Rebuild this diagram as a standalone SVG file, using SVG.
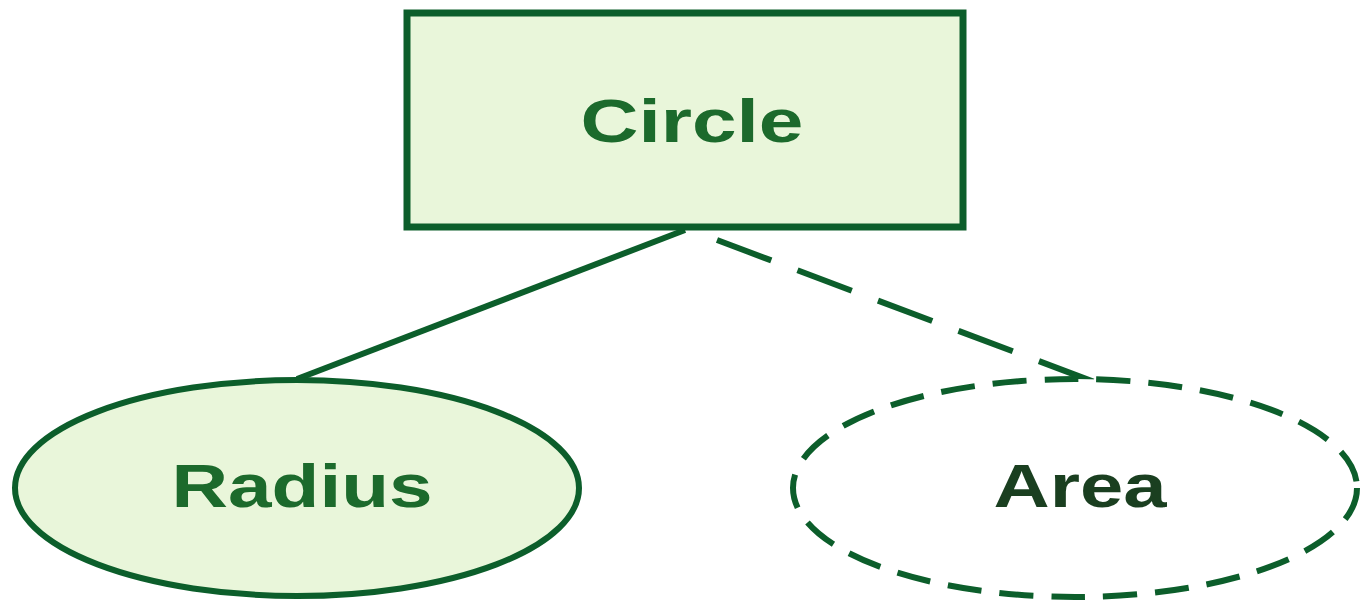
<svg xmlns="http://www.w3.org/2000/svg" width="1366" height="603" viewBox="0 0 1366 603">
  <style>
    .shape { stroke: #0c5e2b; stroke-width: 6; }
    .rectshape { stroke-width: 7; }
    .filled { fill: #e9f6da; }
    .lbl { font-family: "Liberation Sans", Arial, sans-serif; font-weight: bold; font-size: 62px; text-anchor: middle; }
    .green { fill: #1c6a2c; }
    .dark { fill: #1a3f20; }
    .conn { stroke: #0c5e2b; stroke-width: 6; fill: none; }
  </style>
  <rect width="1366" height="603" fill="#ffffff"/>
  <g id="connectors">
    <line class="conn" x1="685" y1="230" x2="297" y2="379"/>
    <line class="conn" x1="717" y1="240" x2="1097" y2="383" stroke-dasharray="58 28"/>
  </g>
  <g id="circle">
    <rect class="shape rectshape filled" x="407" y="13" width="556" height="214"/>
    <text class="lbl green" x="692" y="142" textLength="223" lengthAdjust="spacingAndGlyphs">Circle</text>
  </g>
  <g id="radius">
    <ellipse class="shape filled" cx="297" cy="488" rx="282" ry="108"/>
    <text class="lbl green" x="302" y="507" textLength="261" lengthAdjust="spacingAndGlyphs">Radius</text>
  </g>
  <g id="area">
    <ellipse class="shape" fill="#ffffff" cx="1075" cy="488" rx="282" ry="109" stroke-dasharray="34 18"/>
    <text class="lbl dark" x="1080" y="507" textLength="173" lengthAdjust="spacingAndGlyphs">Area</text>
  </g>
</svg>
